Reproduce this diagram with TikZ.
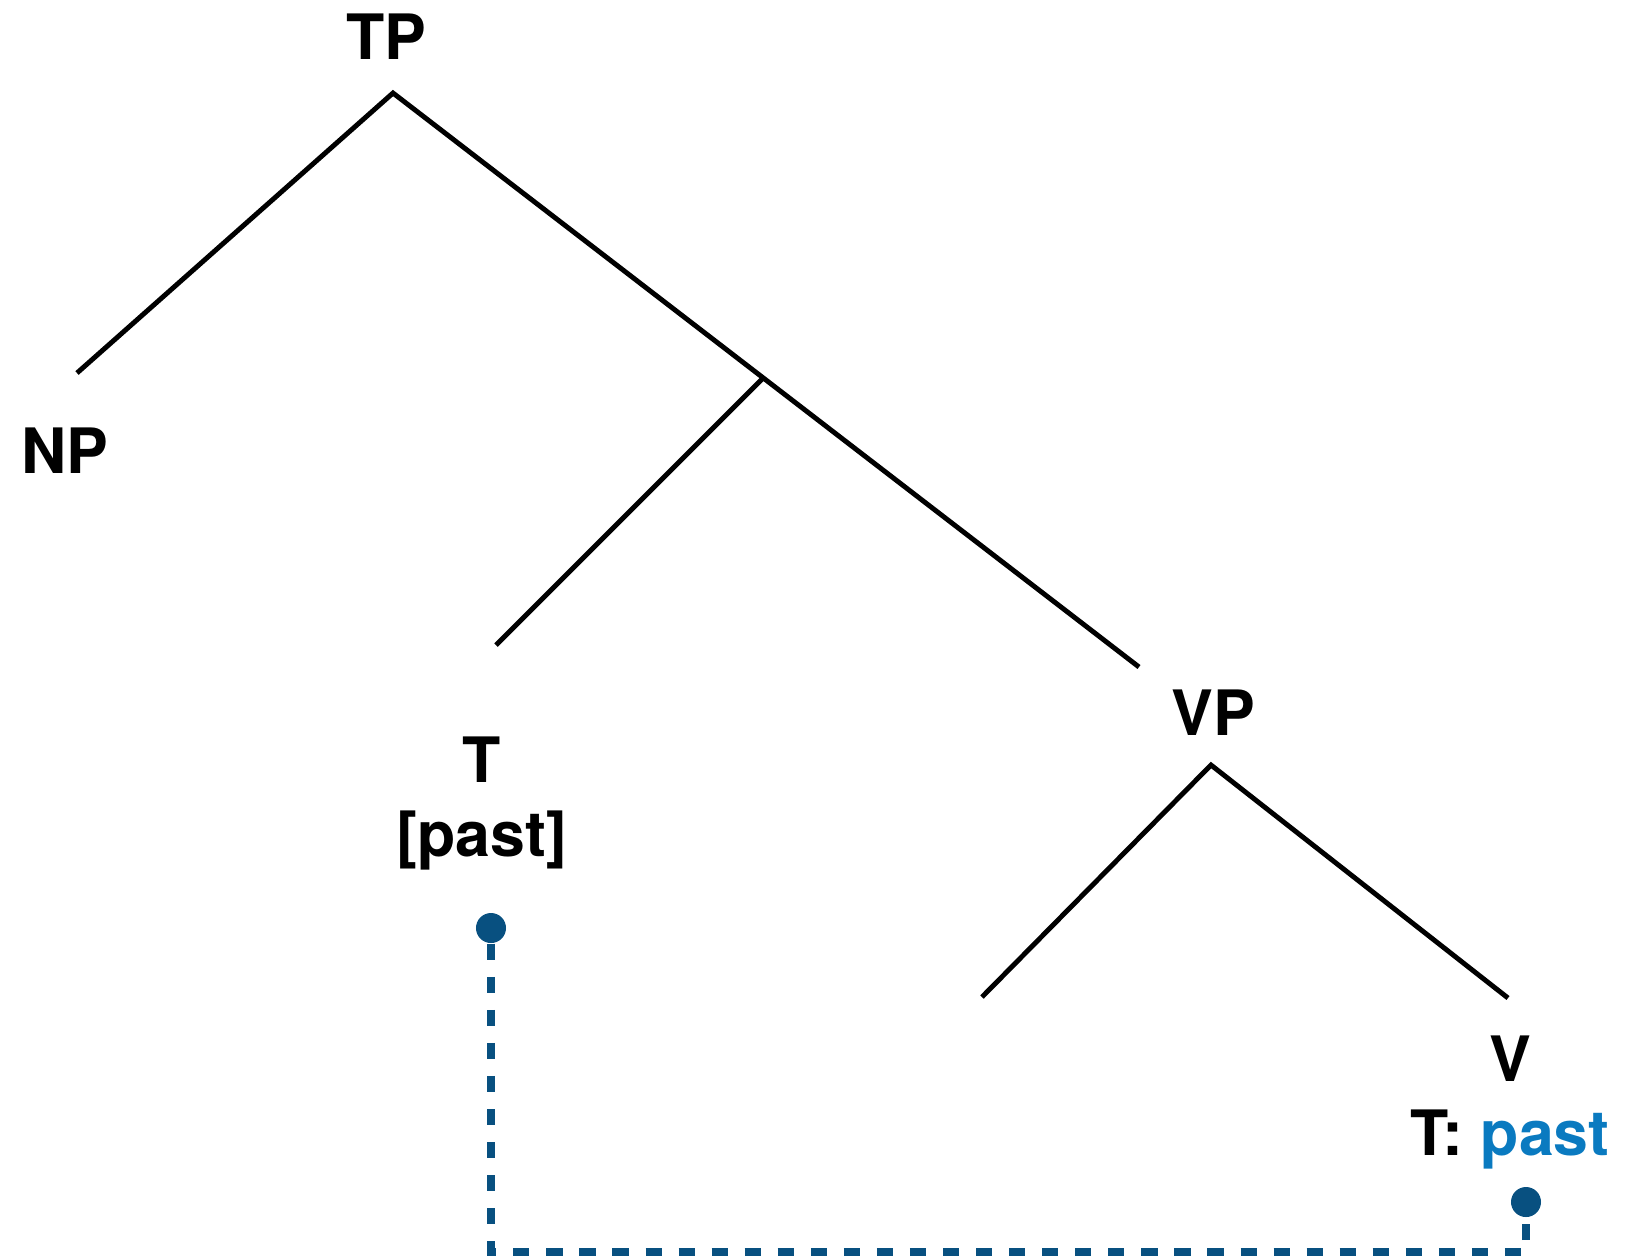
\documentclass[tikz,border=0pt]{standalone}
\usepackage{fontspec}
\setmainfont{TeX Gyre Heros}
\definecolor{linkblue}{RGB}{8,80,128}
\definecolor{featblue}{RGB}{10,122,192}
\tikzset{
  cat/.style={font=\fontsize{17.8}{21}\selectfont\bfseries, inner sep=0pt, anchor=base, align=center},
  branch/.style={line width=1.4pt, line join=miter},
  link/.style={linkblue, line width=2.2pt, dash pattern=on 4.6pt off 4.8pt},
  linkdot/.style={circle, fill=linkblue, inner sep=0pt, minimum size=0.3cm}
}
\begin{document}
\begin{tikzpicture}[x=0.01cm, y=-0.01cm]
\useasboundingbox (0,0) rectangle (1626,1256);

% labels
\node[cat] (TP) at (386,59) {TP};
\node[cat] (NP) at (65,473) {NP};
\node[cat] (T) at (482,856) {T\\{[past]}};
\node[cat] (VP) at (1213,735) {VP};
\node[cat] (V) at (1510,1155) {V\\T: \textcolor{featblue}{past}};

% branch ends
\coordinate (tp) at (393,93);
\coordinate (np) at (77,373);
\coordinate (tbar) at (762,379);
\coordinate (t) at (496,645);
\coordinate (vp0) at (1139,667);
\coordinate (vp) at (1211,765);
\coordinate (vl) at (982,997);
\coordinate (v) at (1508,998);

\draw[branch] (np) -- (tp) -- (vp0);
\draw[branch] (tbar) -- (t);
\draw[branch] (vl) -- (vp) -- (v);

% feature link
\node[linkdot] (tdot) at (491,928) {};
\node[linkdot] (vdot) at (1526,1202) {};
\coordinate (low) at (0,1252);
\draw[link] (tdot.south) -- (tdot |- low) -- (vdot |- low) -- (vdot.south);
\end{tikzpicture}
\end{document}
